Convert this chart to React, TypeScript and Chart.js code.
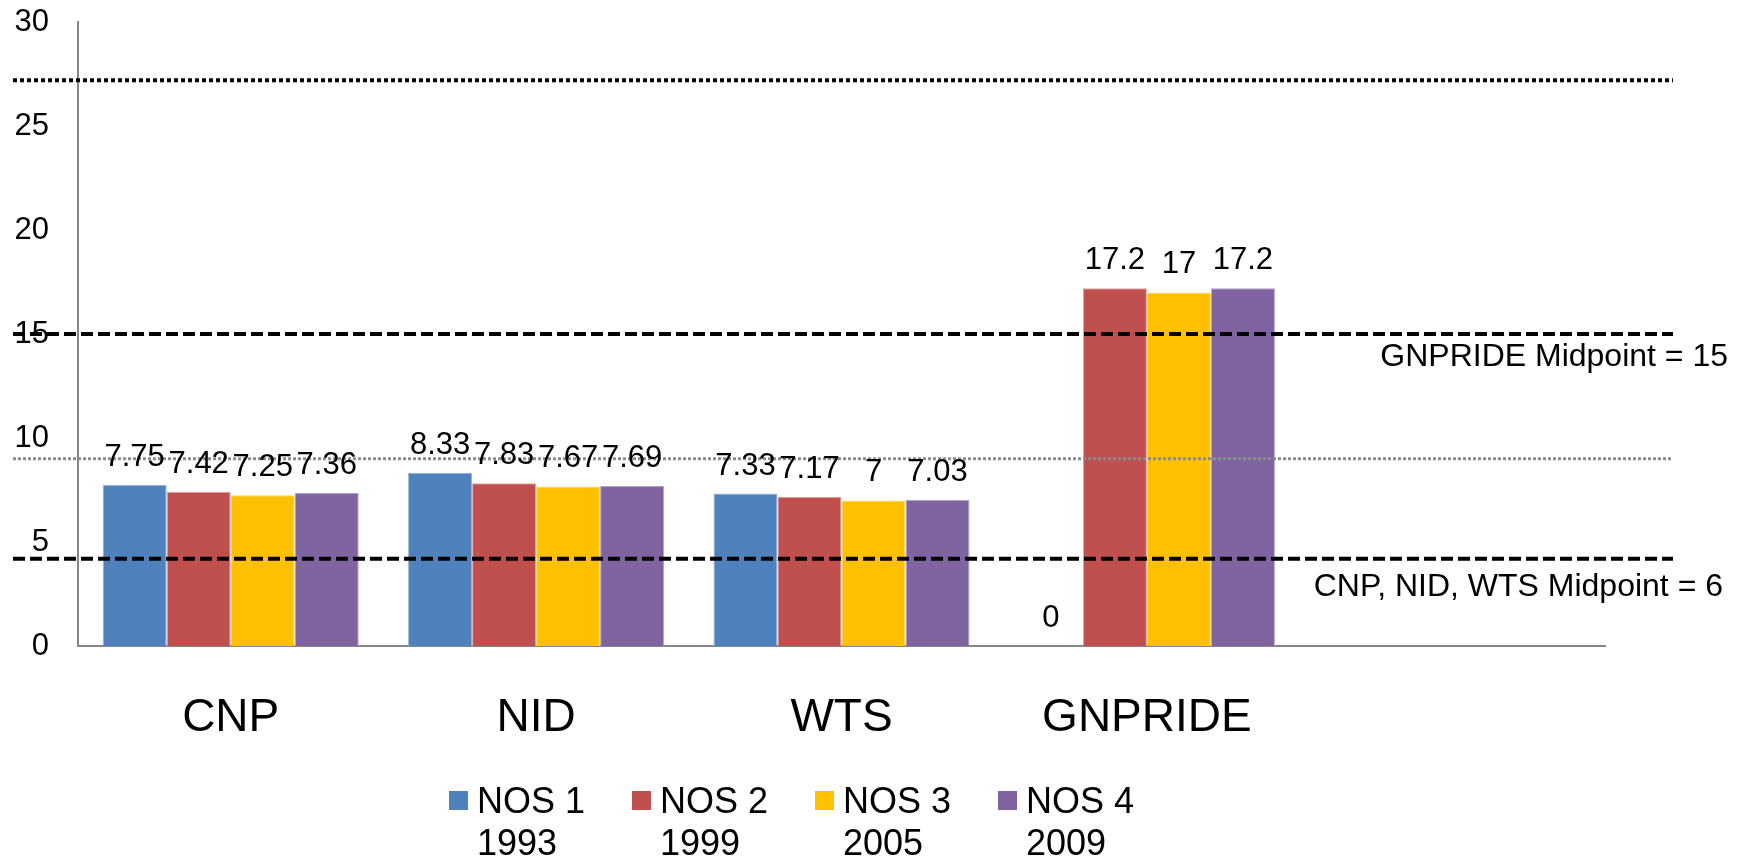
import React, { useEffect, useRef } from 'react';
import { Chart, registerables } from 'chart.js';

Chart.register(...registerables);

// ---- data ----
const categories = ['CNP', 'NID', 'WTS', 'GNPRIDE', ''];
const seriesNames = ['NOS 1', 'NOS 2', 'NOS 3', 'NOS 4'];
const seriesYears = ['1993', '1999', '2005', '2009'];
const nos1 = [7.75, 8.33, 7.33, 0, null];
const nos2 = [7.42, 7.83, 7.17, 17.2, null];
const nos3 = [7.25, 7.67, 7, 17, null];
const nos4 = [7.36, 7.69, 7.03, 17.2, null];
const yTicks = [0, 5, 10, 15, 20, 25, 30];
const refLineValues = [27.2, 15, 9, 4.2];
const refLineLabels = ['', 'GNPRIDE Midpoint = 15', '', 'CNP, NID, WTS Midpoint = 6'];

// ---- styles ----
const FONT = "'Liberation Sans', Arial, Helvetica, sans-serif";
const fillColors = ['#4F81BD', '#C0504D', '#FFC000', '#8064A2'];
const edgeColors = ['#95B3D7', '#E0A3A1', '#FFD966', '#B3A2C7'];
const refLineStyles = [
  { color: '#000000', width: 4, dash: [4, 3], labelDx: 0, labelDy: 0 },
  { color: '#000000', width: 4, dash: [12, 5], labelDx: 123, labelDy: 23 },
  { color: '#8C8C8C', width: 3, dash: [3, 2], labelDx: 0, labelDy: 0 },
  { color: '#000000', width: 4, dash: [12, 5], labelDx: 118, labelDy: 29 },
];

const seriesData = [nos1, nos2, nos3, nos4];

const refLinesPlugin = {
  id: 'refLines',
  afterDatasetsDraw(chart: any) {
    const { ctx, chartArea, scales } = chart;
    const y = scales.y;
    ctx.save();
    refLineValues.forEach((v, i) => {
      const st = refLineStyles[i];
      const py = y.getPixelForValue(v);
      ctx.beginPath();
      ctx.setLineDash(st.dash);
      ctx.strokeStyle = st.color;
      ctx.lineWidth = st.width;
      ctx.moveTo(chartArea.left - 65, py);
      ctx.lineTo(chartArea.right + 68, py);
      ctx.stroke();
      if (refLineLabels[i]) {
        ctx.setLineDash([]);
        ctx.fillStyle = '#000';
        ctx.font = `32px ${FONT}`;
        ctx.textAlign = 'right';
        ctx.textBaseline = 'middle';
        ctx.fillText(refLineLabels[i], chartArea.right + st.labelDx, py + st.labelDy);
      }
    });
    ctx.restore();
  },
};

const valueLabelsPlugin = {
  id: 'valueLabels',
  afterDatasetsDraw(chart: any) {
    const { ctx } = chart;
    ctx.save();
    ctx.fillStyle = '#000';
    ctx.font = `31px ${FONT}`;
    ctx.textAlign = 'center';
    ctx.textBaseline = 'alphabetic';
    chart.data.datasets.forEach((ds: any, i: number) => {
      const meta = chart.getDatasetMeta(i);
      meta.data.forEach((el: any, j: number) => {
        const v = ds.data[j];
        if (v === null || v === undefined) return;
        ctx.fillText(String(v), el.x, el.y - 19);
      });
    });
    ctx.restore();
  },
};

const legendPlugin = {
  id: 'twoLineLegend',
  afterDraw(chart: any) {
    const { ctx } = chart;
    const startX = 449;
    const step = 183;
    const boxTop = 791;
    const box = 19;
    ctx.save();
    ctx.font = `36px ${FONT}`;
    ctx.textAlign = 'left';
    ctx.textBaseline = 'alphabetic';
    chart.data.datasets.forEach((ds: any, i: number) => {
      const x = startX + i * step;
      ctx.fillStyle = ds.backgroundColor;
      ctx.fillRect(x, boxTop, box, box);
      ctx.fillStyle = '#000';
      ctx.fillText(seriesNames[i], x + 28, 813);
      ctx.fillText(seriesYears[i], x + 28, 855);
    });
    ctx.restore();
  },
};

export default function App() {
  const ref = useRef<HTMLCanvasElement | null>(null);
  useEffect(() => {
    if (!ref.current) return;
    const chart = new Chart(ref.current, {
      type: 'bar',
      data: {
        labels: categories,
        datasets: seriesData.map((d, i) => ({
          label: `${seriesNames[i]} ${seriesYears[i]}`,
          data: d as any,
          backgroundColor: fillColors[i],
          borderColor: edgeColors[i],
          borderWidth: 1,
          categoryPercentage: 0.8385,
          barPercentage: 1,
        })),
      },
      options: {
        animation: false,
        responsive: false,
        maintainAspectRatio: false,
        events: [],
        layout: { padding: { left: 0, right: 147, top: 22, bottom: 0 } },
        plugins: { legend: { display: false }, tooltip: { enabled: false } },
        scales: {
          x: {
            grid: { display: false, drawTicks: false },
            border: { display: true, color: '#868686', width: 2 },
            ticks: {
              font: { size: 46, family: FONT },
              color: '#000',
              padding: 45,
              maxRotation: 0,
              autoSkip: false,
            },
            afterFit: (s: any) => {
              s.height = 214;
              s.paddingLeft = 0;
              s.paddingRight = 0;
            },
          },
          y: {
            min: 0,
            max: 30,
            afterBuildTicks: (s: any) => {
              s.ticks = yTicks.map((v) => ({ value: v }));
            },
            grid: { display: false, drawTicks: false },
            border: { display: true, color: '#868686', width: 2 },
            ticks: { font: { size: 31, family: FONT }, color: '#000', padding: 29 },
            afterFit: (s: any) => {
              s.width = 78;
              s.paddingTop = 0;
              s.paddingBottom = 0;
            },
          },
        },
      },
      plugins: [refLinesPlugin, valueLabelsPlugin, legendPlugin],
    });
    return () => chart.destroy();
  }, []);
  return (
    <canvas
      ref={ref}
      width={1752}
      height={860}
      style={{ position: 'absolute', left: 0, top: 0, width: '1752px', height: '860px' }}
    />
  );
}
